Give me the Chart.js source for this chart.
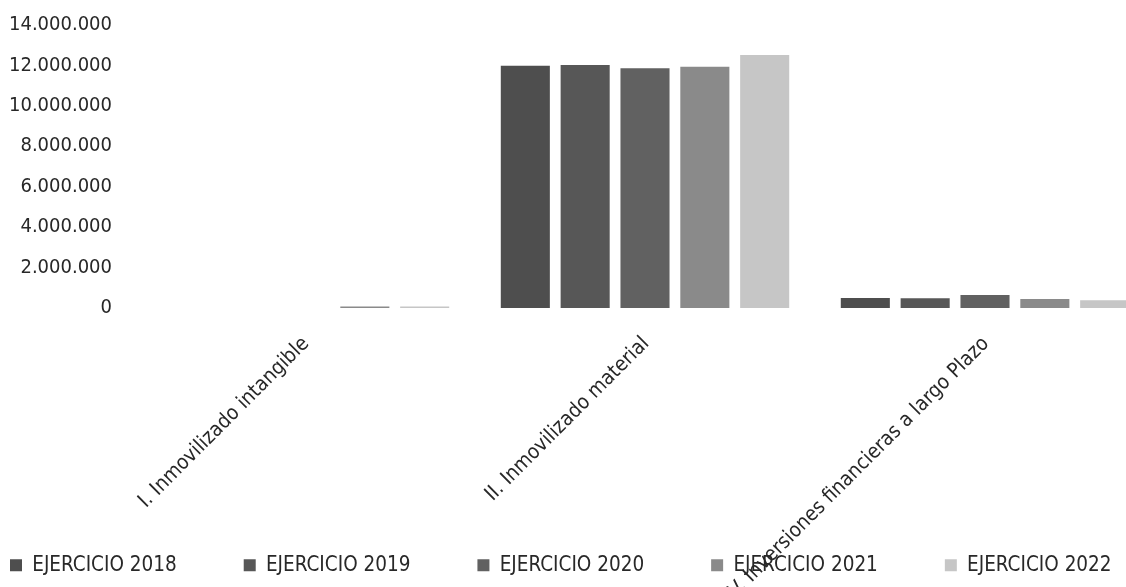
<!DOCTYPE html>
<html>
<head>
<meta charset="utf-8">
<script src="https://cdn.jsdelivr.net/npm/chart.js@4.4.0/dist/chart.umd.min.js"></script>
<style>
  html, body { margin: 0; padding: 0; background: #fff; overflow: hidden; }
  #wrap { width: 1160px; height: 587px; }
</style>
</head>
<body>
<div id="wrap"><canvas id="activochart"></canvas></div>
<script>
// categorias del activo no corriente
var categorias = ['I. Inmovilizado intangible', 'II. Inmovilizado material', 'IV. Inversiones financieras a largo Plazo']
var ejercicios = ['EJERCICIO 2018', 'EJERCICIO 2019', 'EJERCICIO 2020', 'EJERCICIO 2021', 'EJERCICIO 2022']

var valores2018 = [0, 11990000, 500000]
var valores2019 = [0, 12020000, 480000]
var valores2020 = [0, 11860000, 640000]
var valores2021 = [80000, 11940000, 450000]
var valores2022 = [80000, 12520000, 380000]

var yticks = [0, 2000000, 4000000, 6000000, 8000000, 10000000, 12000000, 14000000]

var grises = ['#4e4e4e', '#575757', '#616161', '#8a8a8a', '#c6c6c6']
var fuente = "'Liberation Sans Narrow', 'DejaVu Sans Condensed', sans-serif"

function formatPuntos(v) {
    return String(v).replace(/\B(?=(\d{3})+(?!\d))/g, '.')
}

var series = [valores2018, valores2019, valores2020, valores2021, valores2022]

var activodata = {
    labels: categorias,
    datasets: series.map( (item, index) => ({
        label: ejercicios[index],
        data: item,
        backgroundColor: grises[index],
        borderWidth: 0,
        categoryPercentage: 0.88,
        barPercentage: 0.82
    }))
}

// leyenda en una sola fila desde el borde izquierdo; las etiquetas del eje x pueden bajar hasta el final
const ajustarLayout = {
    id: 'ajustarLayout',
    afterLayout(chart) {
        let l = chart.legend
        let p = l.options.labels.padding
        let h = l.height
        l.left = 10 - p
        l.right = 5000
        l.top = 565 - p - 10
        l.bottom = l.top + h
        chart.scales.x.bottom = chart.height

        // el eje y va de 25 (14.000.000) a 308 (0)
        let y = chart.scales.y
        chart.chartArea.top = 25
        chart.chartArea.height = chart.chartArea.bottom - 25
        y.top = 25
        y.height = y.bottom - 25
        y.configure()
    }
}

const activoconfig = {
  type: 'bar',
  data: activodata,
  plugins: [ajustarLayout],
  options: {
    responsive: true,
    maintainAspectRatio: false,
    animation: false,
    layout: {
      padding: { top: 4, right: 5, bottom: 4, left: 0 }
    },
    scales: {
      x: {
        grid: { display: false, drawTicks: false },
        border: { display: false },
        ticks: {
          color: '#282828',
          font: { family: fuente, size: 20.5 },
          minRotation: 45,
          maxRotation: 45,
          autoSkip: false,
          padding: 24,
          labelOffset: 1
        },
        afterFit: function(scale) { scale.height = scale.chart.height - 4 - scale.chart.legend.height - 308 }
      },
      y: {
        min: 0,
        max: 14000000,
        grid: { display: false, drawTicks: false },
        border: { display: false },
        afterBuildTicks: function(scale) { scale.ticks = yticks.map( v => ({ value: v }) ) },
        ticks: {
          color: '#282828',
          font: { family: fuente, size: 20 },
          padding: 23,
          autoSkip: false,
          callback: function(value) { return formatPuntos(value) }
        },
        afterFit: function(scale) { scale.width = 135 }
      }
    },
    plugins: {
      tooltip: { enabled: false },
      legend: {
        position: 'bottom',
        align: 'start',
        labels: {
          color: '#282828',
          font: { family: fuente, size: 20.5 },
          boxWidth: 12,
          boxHeight: 12,
          padding: 67
        }
      }
    }
  },
};

new Chart(document.getElementById('activochart'), activoconfig)
</script>
</body>
</html>
